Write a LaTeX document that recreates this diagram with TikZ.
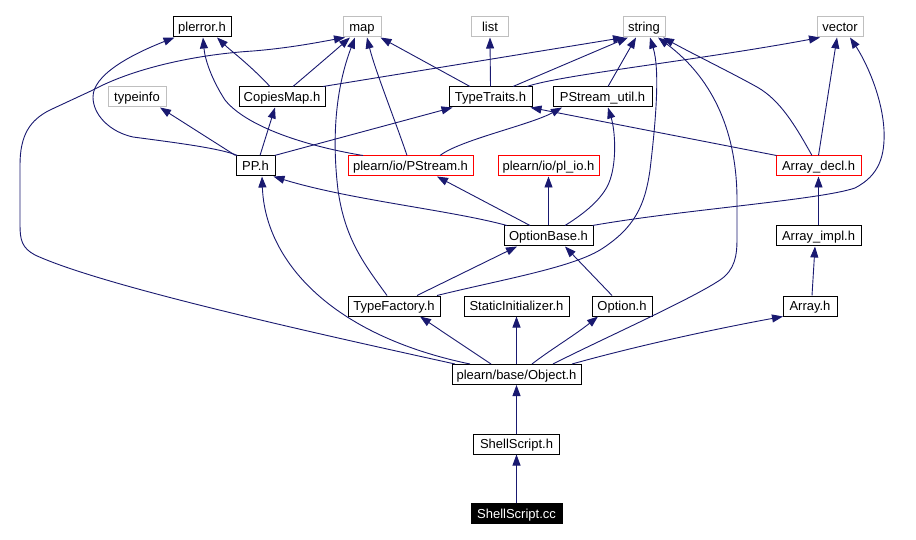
\documentclass[tikz,border=0pt]{standalone}
\usepackage{fontspec}
\setmainfont{Liberation Sans}
\usetikzlibrary{arrows.meta}
\definecolor{edgec}{RGB}{25,25,112}
\definecolor{extc}{RGB}{191,191,191}
\begin{document}
\begin{tikzpicture}[x=1pt,y=-1pt,
 box/.style={draw=black, line width=1pt, minimum height=20pt, inner sep=0pt, text height=11.5pt, text depth=2pt, font=\fontsize{13}{15}\selectfont, fill=white},
 ext/.style={box, draw=extc},
 redbox/.style={box, draw=red},
 mainbox/.style={box, fill=black, text=white},
 dep/.style={draw=edgec, line width=0.9pt, -{Triangle[length=11pt,width=8pt]}}]
\useasboundingbox[fill=white] (0,0) rectangle (916,540);
% nodes
\node[box, minimum width=58pt] (plerror) at (202,27) {plerror.h};
\node[ext, minimum width=38pt] (map) at (362,27) {map};
\node[ext, minimum width=37pt] (list) at (490,27) {list};
\node[ext, minimum width=42pt] (string) at (644,27) {string};
\node[ext, minimum width=46pt] (vector) at (840,27) {vector};
\node[ext, minimum width=58pt] (typeinfo) at (137,97) {typeinfo};
\node[box, minimum width=86pt] (copies) at (282,97) {CopiesMap.h};
\node[box, minimum width=83pt] (tt) at (490.5,97) {TypeTraits.h};
\node[box, minimum width=99pt] (pu) at (602.5,97) {PStream\_util.h};
\node[box, minimum width=39pt] (pp) at (255.5,166) {PP.h};
\node[redbox, minimum width=125pt] (ps) at (410.5,166) {plearn/io/PStream.h};
\node[redbox, minimum width=101pt] (plio) at (548.5,166) {plearn/io/pl\_io.h};
\node[redbox, minimum width=85pt] (adecl) at (818.5,166) {Array\_decl.h};
\node[box, minimum width=89pt] (ob) at (548.5,236) {OptionBase.h};
\node[box, minimum width=85pt] (aimpl) at (818.5,236) {Array\_impl.h};
\node[box, minimum width=92pt] (tf) at (394,306) {TypeFactory.h};
\node[box, minimum width=105pt] (si) at (516.5,306) {StaticInitializer.h};
\node[box, minimum width=60pt] (opt) at (622,306) {Option.h};
\node[box, minimum width=54pt] (arr) at (810,306) {Array.h};
\node[box, minimum width=129pt] (obj) at (516.5,374.5) {plearn/base/Object.h};
\node[box, minimum width=86pt] (shh) at (516.5,444) {ShellScript.h};
\node[mainbox, minimum width=91pt] (shcc) at (516.5,513.5) {ShellScript.cc};
% edges
\draw[dep] (shcc.north) -- (shh.south);
\draw[dep] (shh.north) -- (obj.south);
% Object.h
\draw[dep] ([xshift=-61.5pt]obj.north) .. controls (300,330) and (100,285) .. (35,255)
  .. controls (22,248) and (20,240) .. (20,225) -- (20,165)
  .. controls (20,135) and (30,120) .. (50,110) -- (93,90)
  .. controls (130,70) and (190,55) .. (253,51)
  .. controls (290,48) and (320,42) .. ([xshift=-17pt]map.south);
\draw[dep] ([xshift=-46.5pt]obj.north) .. controls (330,335) and (265,260) .. ([xshift=6.5pt]pp.south);
\draw[dep] ([xshift=-25.5pt]obj.north) .. controls (470,350) and (440,330) .. ([xshift=26pt]tf.south);
\draw[dep] (obj.north) -- (si.south);
\draw[dep] ([xshift=15.5pt]obj.north) .. controls (550,350) and (575,335) .. ([xshift=-24pt]opt.south);
\draw[dep] ([xshift=36.5pt]obj.north) .. controls (600,340) and (690,300) .. (720,280)
  .. controls (735,270) and (737,255) .. (737,240) -- (737,200)
  .. controls (737,135) and (715,80) .. ([xshift=14pt]string.south);
\draw[dep] ([xshift=55.5pt]obj.north) .. controls (640,345) and (720,328) .. ([xshift=-27pt]arr.south);
% TypeFactory.h
\draw[dep] ([xshift=-7pt]tf.north) .. controls (365,265) and (345,240) .. (338,190)
  .. controls (332,140) and (335,90) .. ([xshift=-7pt]map.south);
\draw[dep] ([xshift=23pt]tf.north) -- ([xshift=-31.5pt]ob.south);
\draw[dep] ([xshift=43pt]tf.north) .. controls (500,280) and (570,268) .. (600,250)
  .. controls (635,228) and (645,205) .. (650,170)
  .. controls (656,120) and (660,70) .. ([xshift=6pt]string.south);
% Option.h, Array.h
\draw[dep] ([xshift=-10pt]opt.north) -- ([xshift=16.5pt]ob.south);
\draw[dep] ([xshift=2pt]arr.north) -- ([xshift=-3.5pt]aimpl.south);
\draw[dep] (aimpl.north) -- (adecl.south);
% OptionBase.h
\draw[dep] ([xshift=-41.5pt]ob.north) .. controls (450,210) and (350,200) .. ([xshift=-2pt]pp.south east);
\draw[dep] ([xshift=-18.5pt]ob.north) -- ([xshift=26.5pt]ps.south);
\draw[dep] (ob.north) -- (plio.south);
\draw[dep] ([xshift=16.5pt]ob.north) .. controls (590,210) and (605,195) .. (610,180)
  .. controls (617,160) and (615,130) .. ([xshift=5.5pt]pu.south);
\draw[dep] ([xshift=-1pt]ob.north east) .. controls (680,210) and (820,200) .. (855,188)
  .. controls (880,175) and (885,155) .. (884,130)
  .. controls (882,95) and (865,60) .. ([xshift=10pt]vector.south);
% Array_decl.h
\draw[dep] ([xshift=1pt]adecl.north west) -- ([xshift=-2pt]tt.south east);
\draw[dep] ([xshift=-6.5pt]adecl.north) .. controls (795,125) and (780,100) .. (757,87)
  .. controls (730,72) and (695,55) .. ([xshift=19pt]string.south);
\draw[dep] (adecl.north) -- ([xshift=-3pt]vector.south);
% TypeTraits.h
\draw[dep] ([xshift=-20.5pt]tt.north) -- ([xshift=-1pt]map.south east);
\draw[dep] (tt.north) -- (list.south);
\draw[dep] ([xshift=22.5pt]tt.north) -- ([xshift=-16pt]string.south);
\draw[dep] ([xshift=36.5pt]tt.north) .. controls (560,75) and (700,60) .. ([xshift=-20pt]vector.south);
% CopiesMap.h
\draw[dep] ([xshift=-12pt]copies.north) .. controls (250,65) and (230,50) .. ([xshift=15pt]plerror.south);
\draw[dep] ([xshift=11pt]copies.north) .. controls (310,72) and (330,55) .. ([xshift=-12pt]map.south);
\draw[dep] ([xshift=41pt]copies.north) -- ([xshift=-20pt]string.south);
% PP.h
\draw[dep] ([xshift=2pt]pp.north west) .. controls (220,148) and (170,142) .. (133,137)
  .. controls (110,132) and (93,115) .. (93,97)
  .. controls (93,75) and (130,55) .. ([xshift=2pt]plerror.south west);
\draw[dep] (pp.north west) -- ([xshift=23pt]typeinfo.south);
\draw[dep] ([xshift=4.5pt]pp.north) -- ([xshift=-7pt]copies.south);
\draw[dep] ([xshift=-1pt]pp.north east) -- ([xshift=4pt]tt.south west);
% PStream.h
\draw[dep] ([xshift=-47.5pt]ps.north) .. controls (300,145) and (245,125) .. (225,100)
  .. controls (212,80) and (205,60) .. ([xshift=1pt]plerror.south);
\draw[dep] ([xshift=-3.5pt]ps.north) .. controls (395,120) and (375,70) .. ([xshift=5pt]map.south);
\draw[dep] ([xshift=29.5pt]ps.north) .. controls (460,140) and (530,125) .. ([xshift=-40.5pt]pu.south);
% PStream_util.h
\draw[dep] ([xshift=5.5pt]pu.north) -- ([xshift=-8pt]string.south);
\end{tikzpicture}
\end{document}
